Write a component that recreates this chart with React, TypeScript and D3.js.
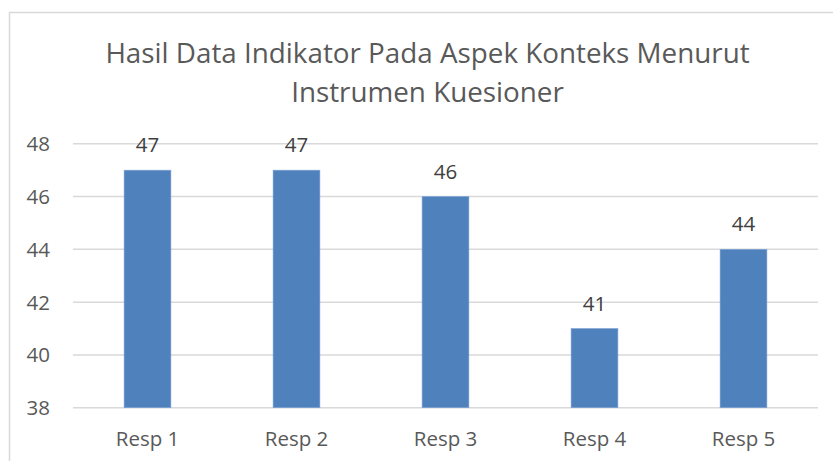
import { useMemo } from "react";
import * as d3 from "d3";

const WIDTH = 833;
const HEIGHT = 461;
const MARGIN = { top: 143.8, right: 15, bottom: 53.3, left: 73 };

const TITLE_LINES = ["Hasil Data Indikator Pada Aspek Konteks Menurut", "Instrumen Kuesioner"];
const CATEGORIES = ["Resp 1", "Resp 2", "Resp 3", "Resp 4", "Resp 5"];
const VALUES = [47, 47, 46, 41, 44];
const Y_TICKS = [38, 40, 42, 44, 46, 48];

const FONT = "'Open Sans', sans-serif";
const TEXT_COLOR = "#595959";
const GRID_COLOR = "#d9d9d9";
const BAR_COLOR = "#4f81bd";

export default function App() {
  const boundsWidth = WIDTH - MARGIN.left - MARGIN.right;
  const boundsHeight = HEIGHT - MARGIN.top - MARGIN.bottom;

  const xScale = useMemo(
    () => d3.scaleBand().domain(CATEGORIES).range([0, boundsWidth]).padding(0),
    [boundsWidth]
  );
  const yScale = useMemo(
    () => d3.scaleLinear().domain([38, 48]).range([boundsHeight, 0]),
    [boundsHeight]
  );

  const barWidth = xScale.bandwidth() * 0.314;

  return (
    <svg
      width={WIDTH}
      height={HEIGHT}
      style={{ position: "absolute", left: 0, top: 0, background: "#fff" }}
      fontFamily={FONT}
    >
      {/* chart border, cut off at right and bottom */}
      <rect x={9.5} y={12.5} width={WIDTH + 20} height={HEIGHT + 20} fill="#fff" stroke={GRID_COLOR} strokeWidth={1.5} />

      <text x={427.5} textAnchor="middle" fill={TEXT_COLOR} fontSize={27.8}>
        {TITLE_LINES.map((line, i) => (
          <tspan key={i} x={427.5} y={62.5 + i * 39}>
            {line}
          </tspan>
        ))}
      </text>

      <g transform={`translate(${MARGIN.left}, ${MARGIN.top})`}>
        {Y_TICKS.map((t) => (
          <g key={t}>
            <line x1={0} x2={boundsWidth} y1={yScale(t)} y2={yScale(t)} stroke={GRID_COLOR} strokeWidth={1.5} />
            <text x={-23} y={yScale(t)} dy="0.36em" textAnchor="end" fill={TEXT_COLOR} fontSize={20.5}>
              {t}
            </text>
          </g>
        ))}

        {CATEGORIES.map((c, i) => {
          const cx = (xScale(c) ?? 0) + xScale.bandwidth() / 2;
          const v = VALUES[i];
          return (
            <g key={c}>
              <rect
                x={cx - barWidth / 2}
                width={barWidth}
                y={yScale(v)}
                height={boundsHeight - yScale(v)}
                fill={BAR_COLOR}
                stroke="#7ea3d6"
                strokeWidth={0.6}
              />
              <text x={cx} y={yScale(v) - 18} textAnchor="middle" fill="#404040" fontSize={20.5}>
                {v}
              </text>
              <text x={cx} y={boundsHeight + 38.5} textAnchor="middle" fill={TEXT_COLOR} fontSize={20.5}>
                {c}
              </text>
            </g>
          );
        })}
      </g>
    </svg>
  );
}
